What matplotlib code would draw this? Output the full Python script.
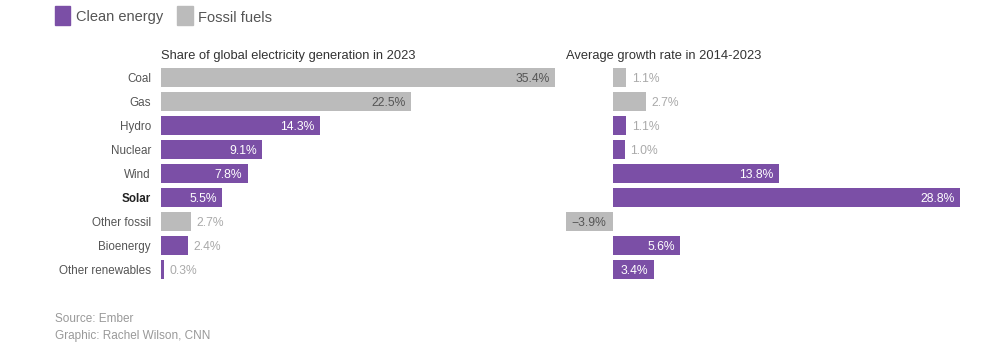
import matplotlib.pyplot as plt
from matplotlib.patches import Rectangle

plt.rcParams['font.family'] = ['Liberation Sans', 'DejaVu Sans']

# datos
fuentes = ["Coal", "Gas", "Hydro", "Nuclear", "Wind", "Solar",
           "Other fossil", "Bioenergy", "Other renewables"]
limpia = [False, False, True, True, True, True, False, True, True]
participacion = [35.4, 22.5, 14.3, 9.1, 7.8, 5.5, 2.7, 2.4, 0.3]
crecimiento = [1.1, 2.7, 1.1, 1.0, 13.8, 28.8, -3.9, 5.6, 3.4]

morado = "#7b4fa6"
gris = "#bbbbbb"
W, H = 995, 362

fig = plt.figure(figsize=(W / 100, H / 100), dpi=100)


def caja(x0, x1, y0, y1):
    # pixeles -> fraccion de figura
    return [x0 / W, 1 - y1 / H, (x1 - x0) / W, (y1 - y0) / H]


n = len(fuentes)
pos = list(range(n))
colores = [morado if c else gris for c in limpia]


def barras(ax, valores, xmin, xmax):
    ax.barh(pos, valores, height=0.82, color=colores)
    ax.set_xlim(xmin, xmax)
    ax.set_ylim(n - 0.5, -0.5)
    ax.axis("off")
    pad = (xmax - xmin) * 0.014
    for i, v in enumerate(valores):
        txt = f"{v:.1f}%".replace("-", "\u2212")
        if abs(v) >= 3:
            col = "white" if limpia[i] else "#555555"
            if v > 0:
                ax.text(v - pad, i, txt, ha="right", va="center_baseline", fontsize=8.7, color=col)
            else:
                ax.text(v + pad, i, txt, ha="left", va="center_baseline", fontsize=8.7, color=col)
        else:
            ax.text(v + pad, i, txt, ha="left", va="center_baseline", fontsize=8.7, color="#aaaaaa")


# panel izquierdo
ax1 = fig.add_axes(caja(161, 555, 65.5, 281.5))
barras(ax1, participacion, 0, 35.4)
for i, f in enumerate(fuentes):
    negrita = f == "Solar"
    ax1.text(-0.9, i, f, ha="right", va="center_baseline", fontsize=8.4,
             color="#222222" if negrita else "#555555",
             fontweight="bold" if negrita else "normal")

# panel derecho
ax2 = fig.add_axes(caja(566, 960, 65.5, 281.5))
barras(ax2, crecimiento, -3.9, 28.8)

fig.text(161 / W, 1 - 54 / H, "Share of global electricity generation in 2023",
         fontsize=9.3, color="#333333", va="center_baseline")
fig.text(566 / W, 1 - 54 / H, "Average growth rate in 2014-2023",
         fontsize=9.3, color="#333333", va="center_baseline")

# leyenda
fig.patches.append(Rectangle((55 / W, 1 - 25 / H), 15 / W, 19 / H,
                             transform=fig.transFigure, color=morado))
fig.text(76 / W, 1 - 16 / H, "Clean energy", fontsize=10.5, color="#555555", va="center_baseline")
fig.patches.append(Rectangle((177 / W, 1 - 25 / H), 16 / W, 19 / H,
                             transform=fig.transFigure, color=gris))
fig.text(198 / W, 1 - 16 / H, "Fossil fuels", fontsize=10.5, color="#555555", va="center_baseline")

fig.text(55 / W, 1 - 318 / H, "Source: Ember", fontsize=8.5, color="#999999", va="center_baseline")
fig.text(55 / W, 1 - 334 / H, "Graphic: Rachel Wilson, CNN", fontsize=8.5, color="#999999", va="center_baseline")

fig.savefig("out.png", dpi=100)
